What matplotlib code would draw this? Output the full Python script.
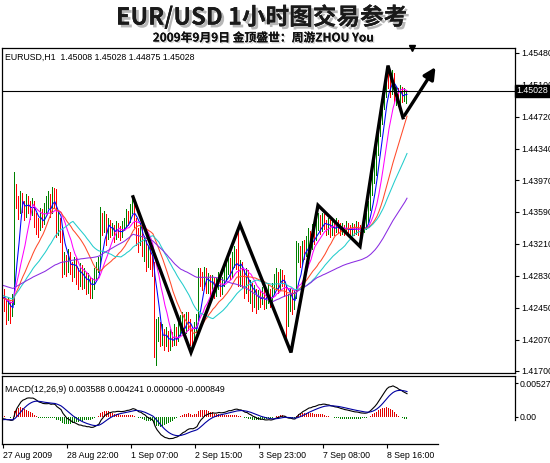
import numpy as np
import pandas as pd
import matplotlib
matplotlib.use('Agg')
import matplotlib.pyplot as plt
import matplotlib.patheffects as pe
from matplotlib.transforms import blended_transform_factory

# prices in pips above 1.4000 (EURUSD H1)
history = [
  290, 286, 292, 288, 284, 290, 294, 288, 285, 291,
  287, 282, 286, 290, 284, 280, 285, 281, 278, 284,
  288, 282, 279, 284, 280, 276, 281, 285, 279, 275,
  270, 274, 268, 265, 270, 266, 262, 268, 264, 259,
  263, 258, 254, 260, 256, 252, 258, 262, 256, 250,
  254, 260, 256, 252, 258, 254, 250, 256, 260, 258,
]
close = [
  262, 250, 240, 246, 238, 252, 385, 370, 362, 375,
  366, 358, 372, 365, 360, 368, 352, 345, 340, 356,
  350, 362, 368, 375, 360, 380, 372, 335, 345, 340,
  290, 300, 292, 306, 296, 288, 298, 285, 278, 290,
  275, 282, 270, 278, 262, 272, 285, 292, 298, 350,
  340, 352, 330, 345, 335, 338, 330, 342, 336, 332,
  340, 345, 355, 350, 362, 370, 348, 335, 325, 340,
  318, 322, 300, 310, 305, 295, 205, 215, 220, 208,
  215, 205, 212, 200, 210, 205, 215, 208, 218, 225,
  232, 220, 235, 228, 215, 205, 222, 230, 285, 280,
  275, 288, 270, 278, 268, 275, 262, 272, 280, 265,
  275, 282, 290, 298, 285, 300, 305, 300, 285, 295,
  280, 270, 285, 262, 268, 255, 262, 250, 258, 255,
  262, 250, 258, 262, 252, 265, 275, 282, 270, 285,
  278, 268, 245, 255, 262, 248, 258, 305, 310, 302,
  318, 312, 322, 330, 318, 335, 328, 342, 348, 340,
  352, 345, 338, 345, 335, 342, 338, 345, 340, 336,
  340, 336, 342, 338, 335, 340, 337, 343, 338, 335,
  340, 342, 350, 365, 385, 398, 410, 430, 455, 470,
  490, 505, 520, 515, 505, 520, 495, 500, 490, 505,
  495, 501, 502.8,
]
high = [
  281, 268, 255, 258, 252, 262, 406, 392, 378, 384,
  382, 372, 380, 378, 372, 376, 372, 358, 352, 364,
  362, 370, 378, 384, 380, 389, 388, 386, 360, 352,
  338, 312, 308, 315, 312, 300, 306, 304, 292, 298,
  296, 292, 288, 286, 282, 280, 292, 300, 306, 365,
  358, 360, 356, 352, 350, 346, 344, 348, 346, 342,
  348, 352, 362, 360, 368, 377, 372, 352, 340, 346,
  342, 330, 326, 318, 316, 308, 300, 232, 234, 228,
  226, 220, 222, 218, 220, 216, 226, 222, 228, 236,
  240, 238, 240, 240, 232, 220, 228, 238, 292, 292,
  288, 294, 292, 286, 284, 284, 280, 280, 288, 284,
  282, 292, 300, 308, 304, 312, 318, 315, 344, 302,
  300, 290, 292, 290, 278, 275, 272, 268, 266, 265,
  270, 268, 265, 272, 268, 275, 285, 292, 288, 291,
  290, 284, 272, 262, 268, 266, 266, 325, 322, 318,
  325, 326, 330, 340, 336, 345, 342, 352, 358, 355,
  358, 356, 350, 352, 350, 348, 346, 352, 350, 346,
  346, 344, 348, 346, 344, 346, 345, 348, 347, 344,
  346, 350, 358, 372, 392, 405, 420, 440, 462, 480,
  500, 515, 530, 533, 526, 528, 524, 508, 506, 510,
  508, 506, 502.8,
]
low = [
  246, 240, 225, 230, 226, 234, 248, 362, 350, 356,
  358, 348, 352, 356, 350, 354, 340, 332, 328, 336,
  340, 344, 356, 362, 352, 356, 362, 328, 330, 322,
  280, 284, 282, 286, 284, 276, 280, 272, 266, 270,
  266, 268, 260, 262, 255, 256, 266, 278, 286, 294,
  330, 334, 318, 326, 328, 330, 322, 326, 328, 324,
  328, 336, 340, 342, 346, 356, 340, 318, 310, 318,
  306, 300, 288, 292, 290, 282, 186, 176, 204, 198,
  200, 194, 198, 192, 194, 198, 200, 200, 204, 212,
  218, 212, 214, 218, 200, 194, 200, 215, 226, 270,
  265, 270, 262, 262, 258, 262, 256, 258, 266, 258,
  260, 270, 276, 284, 278, 280, 292, 290, 270, 270,
  268, 255, 262, 252, 250, 240, 245, 238, 242, 245,
  248, 242, 244, 250, 245, 248, 260, 268, 262, 265,
  270, 258, 205, 222, 240, 236, 242, 255, 298, 292,
  296, 302, 306, 316, 310, 314, 320, 324, 336, 332,
  335, 338, 330, 332, 328, 330, 330, 334, 333, 330,
  332, 330, 332, 332, 328, 330, 330, 332, 330, 328,
  330, 334, 338, 346, 360, 378, 392, 402, 425, 448,
  462, 480, 495, 505, 495, 498, 488, 485, 484, 486,
  488, 490, 487.5,
]
ma_periods = [5, 10, 20, 30, 60]
ma_colors = ['#0000ff', '#ff00ff', '#ff4a2a', '#22cccc', '#8a2be2']
price_ticks = [1.41700, 1.42070, 1.42450, 1.42830, 1.43210, 1.43590,
               1.43970, 1.44340, 1.44720, 1.45100, 1.45480]
date_labels = ['27 Aug 2009', '28 Aug 22:00', '1 Sep 07:00', '2 Sep 15:00',
               '3 Sep 23:00', '7 Sep 08:00', '8 Sep 16:00']
# hand drawn zigzag (bar index, pips)
zig_x = [65, 94, 118.5, 144, 157.5, 178.5, 192.5, 200]
zig_y = [377, 192, 344, 192, 367, 318, 533, 471]
arrow_end = (217, 534)
last_price = 1.45028

to_price = lambda p: 1.4 + np.asarray(p, dtype=float) / 10000.0

n_hist = len(history)
allc = pd.Series(to_price(history + close))
c = to_price(close)
h = to_price(high)
l = to_price(low)
o = np.concatenate([[to_price(history[-1])], c[:-1]])
o[-1] = 1.45008
idx = np.arange(len(c))

ema12 = allc.ewm(span=12, adjust=False).mean()
ema26 = allc.ewm(span=26, adjust=False).mean()
macd = (ema12 - ema26).values[n_hist:]
sig = (ema12 - ema26).ewm(span=9, adjust=False).mean().values[n_hist:]
histo = macd - sig

W, H = 550, 463
fig = plt.figure(figsize=(W / 100, H / 100), dpi=100)
fig.patch.set_facecolor('white')

def box(x0, y0, x1, y1):
  return [x0 / W, 1 - y1 / H, (x1 - x0) / W, (y1 - y0) / H]

ax = fig.add_axes(box(2, 48, 515, 373))
ax2 = fig.add_axes(box(2, 376, 515, 444), sharex=ax)

fnt = dict(family='Liberation Sans', size=6.3)

# price bars, one pixel wide
up = c >= o
bar_col = np.where(up, '#008000', '#ff0000')
ax.bar(idx - 0.25, h - l, bottom=l, width=0.5, color=bar_col,
       linewidth=0, antialiased=False)

for p, col in zip(ma_periods, ma_colors):
  m = allc.rolling(p, min_periods=1).mean().values[n_hist:]
  ax.plot(idx, m, color=col, lw=0.75)

ax.plot(zig_x, to_price(zig_y), color='black', lw=2.4, solid_joinstyle='miter')
ax.annotate('', xy=(arrow_end[0], to_price(arrow_end[1])),
            xytext=(zig_x[-1], to_price(zig_y[-1])),
            arrowprops=dict(arrowstyle='-|>,head_length=0.7,head_width=0.35',
                            color='black', lw=2.4))

ax.axhline(last_price, color='black', lw=0.8)
ax.plot([204.5], [1.0], marker='v', color='black', ms=5,
        transform=blended_transform_factory(ax.transData, ax.transAxes), clip_on=False)

ax.set_xlim(-0.5, 256)
ax.set_ylim(1.41676, 1.45539)
ax.yaxis.tick_right()
ax.set_yticks(price_ticks)
ax.set_yticklabels(['%.5f' % v for v in price_ticks], **fnt)
ax.tick_params(axis='y', length=3, width=0.8, pad=1.5, direction='out')
ax.tick_params(axis='x', bottom=False, labelbottom=False)
for sp in ax.spines.values():
  sp.set_linewidth(0.9)

tr = blended_transform_factory(ax.transAxes, ax.transData)
ax.text(1.003, last_price, '1.45028', transform=tr, color='white', va='center', ha='left',
        bbox=dict(boxstyle='square,pad=0.15', fc='black', ec='black'), zorder=10, **fnt)

fig.text(5 / W, 1 - 57 / H, 'EURUSD,H1  1.45008 1.45028 1.44875 1.45028',
         va='center', ha='left', **fnt)

# MACD panel
hist_col = np.where(histo >= 0, '#e00000', '#008000')
ax2.bar(idx - 0.25, histo, width=0.5, color=hist_col, linewidth=0, antialiased=False)
ax2.plot(idx, macd, color='black', lw=0.8)
ax2.plot(idx, sig, color='#0000a0', lw=0.8)
ax2.set_ylim(-0.00419, 0.00636)
ax2.yaxis.tick_right()
ax2.set_yticks([0.00527, 0.0])
ax2.set_yticklabels(['0.00527', '0.00'], **fnt)
ax2.tick_params(axis='y', length=2, width=0.8, pad=1.5)
ax2.set_xticks(np.arange(len(date_labels)) * 32)
ax2.set_xticklabels(date_labels, ha='left', **fnt)
ax2.tick_params(axis='x', length=3, width=0.8, pad=2)
ax2.spines['bottom'].set_bounds(-0.5, 217.5)
ax2.spines['right'].set_bounds(-0.00047, 0.00636)
for sp in ax2.spines.values():
  sp.set_linewidth(0.9)
fig.text(5 / W, 1 - 389 / H, 'MACD(12,26,9) 0.003588 0.004241 0.000000 -0.000849',
         va='center', ha='left', **fnt)

cjk = ['Noto Sans CJK SC', 'DejaVu Sans']
shadow = [pe.withSimplePatchShadow(offset=(2, -2), shadow_rgbFace='#888888', alpha=0.6),
          pe.Normal()]
fig.text(0.4755, 1 - 17 / H, 'EUR/USD 1小时图交易参考', ha='center', va='center',
         family=cjk, size=17, weight='bold', color='#1a1a1a', path_effects=shadow)
fig.text(0.478, 1 - 38 / H, '2009年9月9日 金顶盛世：周游ZHOU You', ha='center',
         va='center', family=cjk, size=8.5, weight='bold', color='#111111',
         path_effects=[pe.withSimplePatchShadow(offset=(1, -1), shadow_rgbFace='#aaaaaa',
                                                alpha=0.5), pe.Normal()])

fig.savefig('out.png', dpi=100)
